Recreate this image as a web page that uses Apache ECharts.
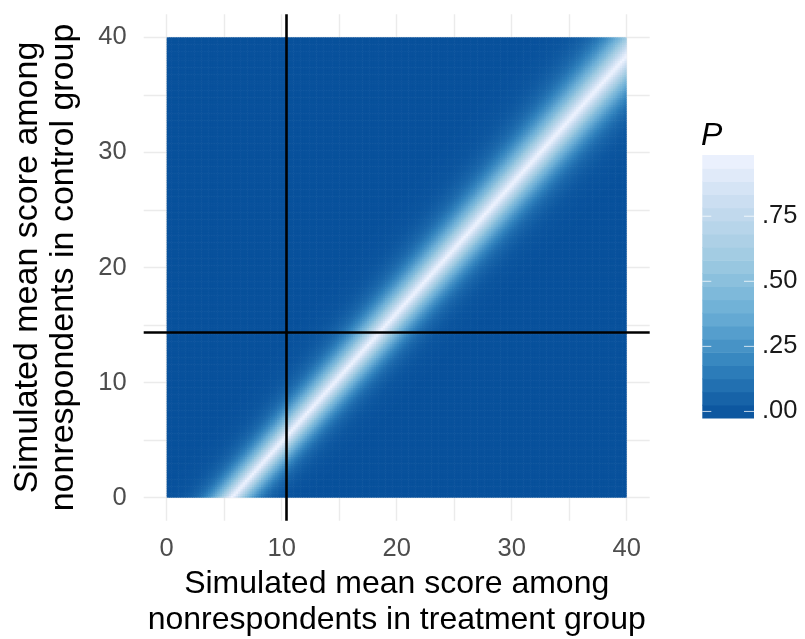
<!DOCTYPE html>
<html><head><meta charset="utf-8">
<script src="https://cdn.jsdelivr.net/npm/echarts@6/dist/echarts.min.js"></script>
<style>html,body{margin:0;padding:0;background:#fff}#c{width:805px;height:639px}</style>
</head><body><div id="c"></div>
<script>
// ---- values ----
const xTickLabels = [0, 10, 20, 30, 40];
const yTickLabels = [0, 10, 20, 30, 40];
const gridLineValues = [0, 5, 10, 15, 20, 25, 30, 35, 40];
const legendTickValues = [0, 0.25, 0.5, 0.75];
const legendTickLabels = ['.00', '.25', '.50', '.75'];
// ridge of the P surface (treatment x where P peaks, per control y)
const ridgeY = [0, 38];
const ridgeX = [5.6, 39.6];
// P against horizontal distance from the ridge (read around y = 20)
const profileOffset = [0, 0.5, 1, 1.5, 2, 2.5, 3, 3.5, 4, 4.5, 5, 5.5, 6, 7, 8, 9];
const profileP      = [0.96, 0.80, 0.63, 0.48, 0.36, 0.26, 0.18, 0.12, 0.08, 0.055, 0.035, 0.022, 0.014, 0.006, 0.002, 0];
// band gets wider towards the top
const spreadY = [0, 20, 40];
const spreadFactor = [0.8, 1.0, 1.2];
// reference lines
const refX = 10.43;
const refY = 14.35;
const pMax = 0.96;
const palette = ['#08519C', '#3182BD', '#6BAED6', '#9ECAE1', '#C6DBEF', '#EFF3FF'];

// ---- build grid of cells from the read values ----
function lerp(xs, ys, v) {
  if (v <= xs[0]) return ys[0];
  for (let i = 1; i < xs.length; i++) {
    if (v <= xs[i]) { const t = (v - xs[i-1]) / (xs[i] - xs[i-1]); return ys[i-1] + t * (ys[i] - ys[i-1]); }
  }
  return ys[ys.length - 1];
}
const ridgeSlope = (ridgeX[1] - ridgeX[0]) / (ridgeY[1] - ridgeY[0]);
const step = 0.2, N = Math.round(40 / step);
const cells = [];
for (let j = 0; j < N; j++) {
  const y0 = j * step, yc = y0 + step / 2;
  const rx = ridgeX[0] + (yc - ridgeY[0]) * ridgeSlope;
  const sf = lerp(spreadY, spreadFactor, yc);
  for (let i = 0; i < N; i++) {
    const x0 = i * step, xc = x0 + step / 2;
    const d = Math.abs(xc - rx) / sf;
    cells.push([x0, y0, x0 + step, y0 + step, lerp(profileOffset, profileP, d)]);
  }
}

const FONT = "'Liberation Sans', Arial, sans-serif";
const chart = echarts.init(document.getElementById('c'), null, {renderer: 'canvas'});

// legend (colour bar) geometry
const barX = 702.3, barTop = 155, barW = 51.7, barH = 263;
const halfBin = barH / 40;
const v2y = v => barTop + barH - halfBin - (v / pMax) * (barH - 2 * halfBin);
const legendGraphics = [];
const nb = 20;
for (let k = 0; k < nb; k++) {
  const v = (k + 0.5) / nb;
  legendGraphics.push({
    type: 'rect', silent: true,
    shape: {x: barX, y: barTop + barH - (k + 1) * barH / nb, width: barW, height: barH / nb + (k < nb - 1 ? 0.6 : 0)},
    style: {fill: echarts.color.lerp(v, palette)}
  });
}
legendTickValues.forEach((v, i) => {
  const y = v2y(v);
  legendGraphics.push({type: 'line', silent: true, z: 10, shape: {x1: barX, y1: y, x2: barX + 9, y2: y}, style: {stroke: 'rgba(255,255,255,0.75)', lineWidth: 1}});
  legendGraphics.push({type: 'line', silent: true, z: 10, shape: {x1: barX + barW - 10, y1: y, x2: barX + barW, y2: y}, style: {stroke: 'rgba(255,255,255,0.75)', lineWidth: 1}});
  legendGraphics.push({type: 'text', silent: true, x: 762, y: y, style: {text: legendTickLabels[i], fill: '#1a1a1a', font: '25.5px ' + FONT, verticalAlign: 'middle', align: 'left'}});
});
legendGraphics.push({type: 'text', silent: true, x: 701, y: 136, style: {text: 'P', fill: '#000', font: 'italic 32px ' + FONT, verticalAlign: 'middle', align: 'left'}});

const option = {
  animation: false,
  backgroundColor: '#fff',
  grid: {left: 143.7, right: 805 - 649.7, top: 14.3, bottom: 639 - 520.7, containLabel: false, outerBoundsMode: 'none'},
  visualMap: {show: false, type: 'continuous', min: 0, max: pMax, dimension: 4, seriesIndex: 0, inRange: {color: palette}},
  xAxis: {
    type: 'value', min: -2, max: 42,
    axisLine: {show: false},
    axisTick: {show: false, customValues: gridLineValues},
    axisLabel: {customValues: xTickLabels, color: '#4d4d4d', fontSize: 25.5, fontFamily: FONT, margin: 15},
    splitLine: {show: true, lineStyle: {color: '#ebebeb', width: 1.4}},
    name: 'Simulated mean score among\nnonrespondents in treatment group',
    nameLocation: 'middle', nameGap: 29,
    nameTextStyle: {fontSize: 32, fontFamily: FONT, color: '#000', lineHeight: 36}
  },
  yAxis: {
    type: 'value', min: -2, max: 42,
    axisLine: {show: false},
    axisTick: {show: false, customValues: gridLineValues},
    axisLabel: {customValues: yTickLabels, color: '#4d4d4d', fontSize: 25.5, fontFamily: FONT, margin: 17, padding: [6, 0, 0, 0]},
    splitLine: {show: true, lineStyle: {color: '#ebebeb', width: 1.4}},
    name: 'Simulated mean score among\nnonrespondents in control group',
    nameLocation: 'middle', nameGap: 62,
    nameTextStyle: {fontSize: 34, fontFamily: FONT, color: '#000', lineHeight: 36}
  },
  series: [{
    type: 'custom', silent: true, progressive: 0,
    data: cells,
    encode: {x: [0, 2], y: [1, 3]},
    renderItem(params, api) {
      const a = api.coord([api.value(0), api.value(3)]);
      const b = api.coord([api.value(2), api.value(1)]);
      const w = b[0] - a[0] + (api.value(2) < 40 ? 0.6 : 0);
      const h = b[1] - a[1] + (api.value(1) > 0 ? 0.6 : 0);
      return {type: 'rect', shape: {x: a[0], y: a[1], width: w, height: h}, style: {fill: api.visual('color')}};
    },
    markLine: {
      silent: true, symbol: 'none', label: {show: false},
      lineStyle: {color: '#000', width: 2.6, type: 'solid'},
      data: [{xAxis: refX}, {yAxis: refY}]
    }
  }],
  graphic: legendGraphics
};
chart.setOption(option);
</script></body></html>
